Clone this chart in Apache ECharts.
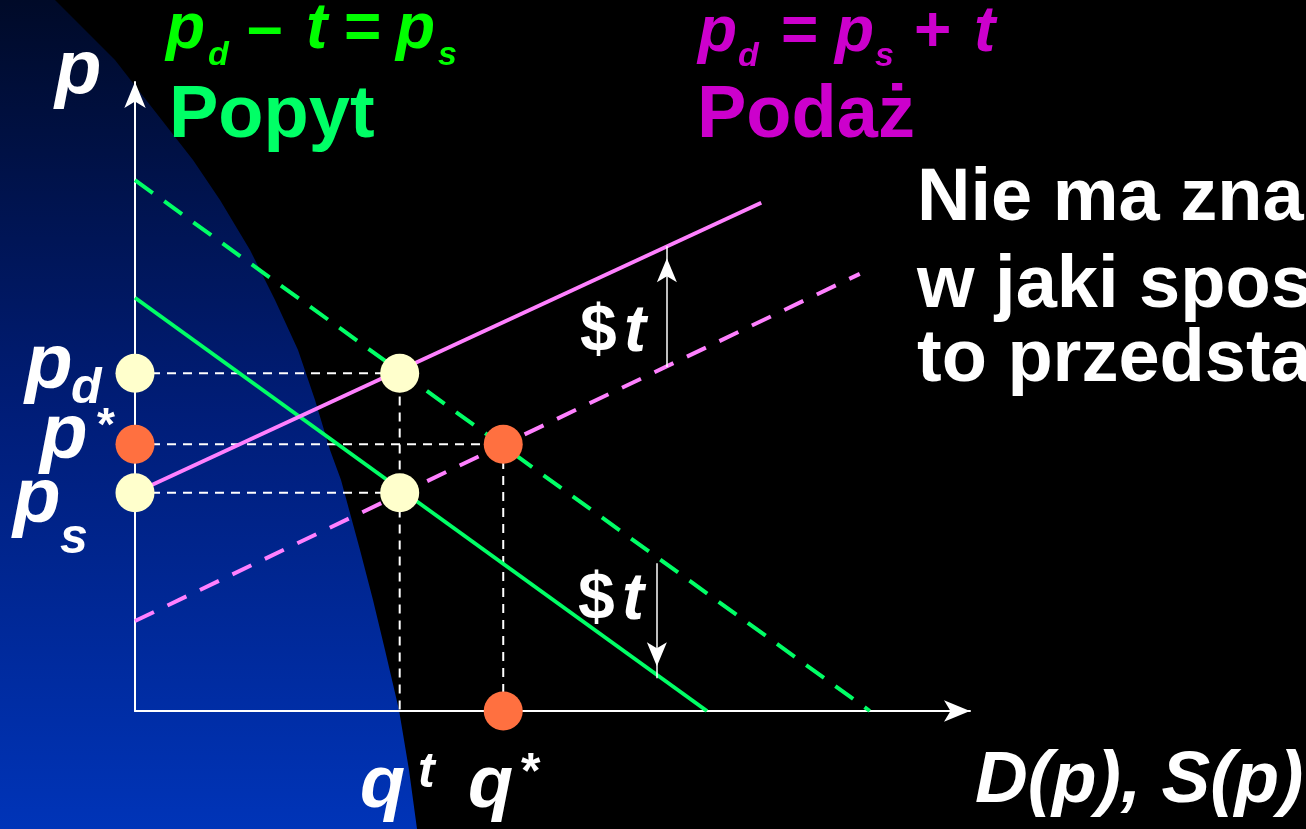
<!DOCTYPE html>
<html>
<head>
<meta charset="utf-8">
<script src="https://cdn.jsdelivr.net/npm/echarts@6/dist/echarts.min.js"></script>
<style>
html, body { margin: 0; padding: 0; background: #000; }
#chart { width: 1306px; height: 829px; }
</style>
</head>
<body>
<div id="chart"></div>
<script>
// end points [q, p] of the four lines
var demandBefore = [[0, 84.4], [88.0, 0]];    // p_d - t = p_s, dashed
var demandAfter = [[0, 65.7], [68.5, 0]];     // shifted down by t
var supplyAfter = [[0, 34.7], [75.0, 80.8]];  // p_d = p_s + t
var supplyBefore = [[0, 14.3], [86.8, 69.5]]; // dashed

// p_d, p*, p_s
var priceLevels = [53.7, 42.4, 34.7];
// q^t, q*
var quantities = [31.7, 44.1];
// tax arrows: [q, from p, to p]
var taxArrows = [[63.7, 54.7, 73.9], [62.5, 23.5, 5.2]];

var pd = priceLevels[0], pStar = priceLevels[1], ps = priceLevels[2];
var qt = quantities[0], qStar = quantities[1];

var FONT = '"Liberation Sans", Arial, sans-serif';
var GREEN = '#00ff66', PINK = '#ff80ff';

// x = left edge, base = baseline
function label(x, base, text, size, color, italic) {
    return {
        type: 'text', x: x, y: base - size * 0.276, z: 100,
        style: {
            text: text, fill: color,
            font: (italic ? 'italic ' : '') + 'bold ' + size + 'px ' + FONT,
            align: 'left', verticalAlign: 'middle'
        }
    };
}

var chart = echarts.init(document.getElementById('chart'));

var edge = [[0, 0], [55, 0], [85, 30], [115, 60], [150, 105], [193, 160], [220, 200],
    [250, 250], [275, 300], [298, 350], [315, 400], [330, 450], [341, 480], [360, 550],
    [373, 600], [385, 650], [399, 710], [409, 770], [417, 829], [0, 829]];

var texts = [
    label(55, 93, 'p', 76, '#fff', true),
    // green formula
    label(166, 48, 'p', 64, '#00ff00', true),
    label(208, 65, 'd', 34, '#00ff00', true),
    label(247, 48, '\u2013', 64, '#00ff00', false),
    label(306, 48, 't', 64, '#00ff00', true),
    label(344, 48, '=', 64, '#00ff00', false),
    label(396, 48, 'p', 64, '#00ff00', true),
    label(438, 65, 's', 34, '#00ff00', true),
    label(169, 137, 'Popyt', 74, GREEN, false),
    // magenta formula
    label(698, 51, 'p', 64, '#cc00cc', true),
    label(738, 66, 'd', 34, '#cc00cc', true),
    label(781, 51, '=', 64, '#cc00cc', false),
    label(835, 51, 'p', 64, '#cc00cc', true),
    label(875, 66, 's', 34, '#cc00cc', true),
    label(914, 51, '+', 64, '#cc00cc', false),
    label(974, 51, 't', 64, '#cc00cc', true),
    label(697, 137, 'Poda\u017c', 74, '#cc00cc', false),
    // right note
    label(917, 220, 'Nie ma znaczenia,', 74, '#fff', false),
    label(917, 307, 'w jaki spos\u00f3b', 74, '#fff', false),
    label(917, 381, 'to przedstawimy', 74, '#fff', false),
    // price labels
    label(25, 388, 'p', 78, '#fff', true),
    label(71, 403, 'd', 50, '#fff', true),
    label(97, 440, '*', 46, '#fff', false),
    label(40, 458, 'p', 78, '#fff', true),
    label(13, 522, 'p', 78, '#fff', true),
    label(60, 553, 's', 50, '#fff', true),
    // $t
    label(580, 351, '$', 66, '#fff', false),
    label(624, 351, 't', 66, '#fff', true),
    label(578, 619, '$', 66, '#fff', false),
    label(622, 619, 't', 66, '#fff', true),
    // quantity labels
    label(360, 807, 'q', 74, '#fff', true),
    label(418, 787, 't', 50, '#fff', true),
    label(468, 807, 'q', 74, '#fff', true),
    label(521, 788, '*', 50, '#fff', false),
    label(975, 802, 'D(p), S(p)', 73, '#fff', true)
];

var axisCommon = {
    type: 'value', min: 0, max: 100,
    axisLine: { show: true, symbol: ['none', 'arrow'], symbolSize: [16, 26], lineStyle: { color: '#fff', width: 2 } },
    axisTick: { show: false }, axisLabel: { show: false }, splitLine: { show: false }
};

var guide = { color: '#fff', width: 2, type: [9, 7] };

option = {
    backgroundColor: '#000',
    animation: false,
    grid: { left: 135, right: 336, top: 82, bottom: 118 },
    xAxis: axisCommon,
    yAxis: axisCommon,
    graphic: [{
        type: 'polygon', z: -1, silent: true,
        shape: { points: edge },
        style: {
            fill: new echarts.graphic.LinearGradient(0, 0, 0, 1, [
                { offset: 0, color: '#000a28' },
                { offset: 0.5, color: '#001d78' },
                { offset: 1, color: '#0034b8' }
            ])
        }
    }].concat(texts),
    series: [
        { type: 'line', z: 2, symbol: 'none', data: [[0, pd], [qt, pd], [qt, 0]], lineStyle: guide },
        { type: 'line', z: 2, symbol: 'none', data: [[0, pStar], [qStar, pStar], [qStar, 0]], lineStyle: guide },
        { type: 'line', z: 2, symbol: 'none', data: [[0, ps], [qt, ps]], lineStyle: guide },
        { type: 'line', z: 3, symbol: 'none', data: demandBefore, lineStyle: { color: GREEN, width: 4, type: [22, 14] } },
        { type: 'line', z: 3, symbol: 'none', data: demandAfter, lineStyle: { color: GREEN, width: 4 } },
        { type: 'line', z: 3, symbol: 'none', data: supplyAfter, lineStyle: { color: PINK, width: 4 } },
        { type: 'line', z: 3, symbol: 'none', data: supplyBefore, lineStyle: { color: PINK, width: 4, type: [21, 15] } },
        {
            type: 'scatter', z: 4, symbolSize: 39, itemStyle: { color: '#ffffcc', opacity: 1 },
            data: [[0, pd], [qt, pd], [0, ps], [qt, ps]]
        },
        {
            type: 'scatter', z: 4, symbolSize: 39, itemStyle: { color: '#ff7040', opacity: 1 },
            data: [[0, pStar], [qStar, pStar], [qStar, 0]]
        },
        {
            type: 'line', z: 5, data: [],
            markLine: {
                silent: true, animation: false,
                symbol: ['none', 'arrow'],
                label: { show: false },
                lineStyle: { color: '#fff', width: 1.5, type: 'solid' },
                data: taxArrows.map(function (a) {
                    return [
                        { coord: [a[0], a[1]] },
                        { coord: [a[0], a[2]], symbolSize: [15, 24], symbolOffset: [0, 12] }
                    ];
                })
            }
        }
    ]
};

chart.setOption(option);
</script>
</body>
</html>
